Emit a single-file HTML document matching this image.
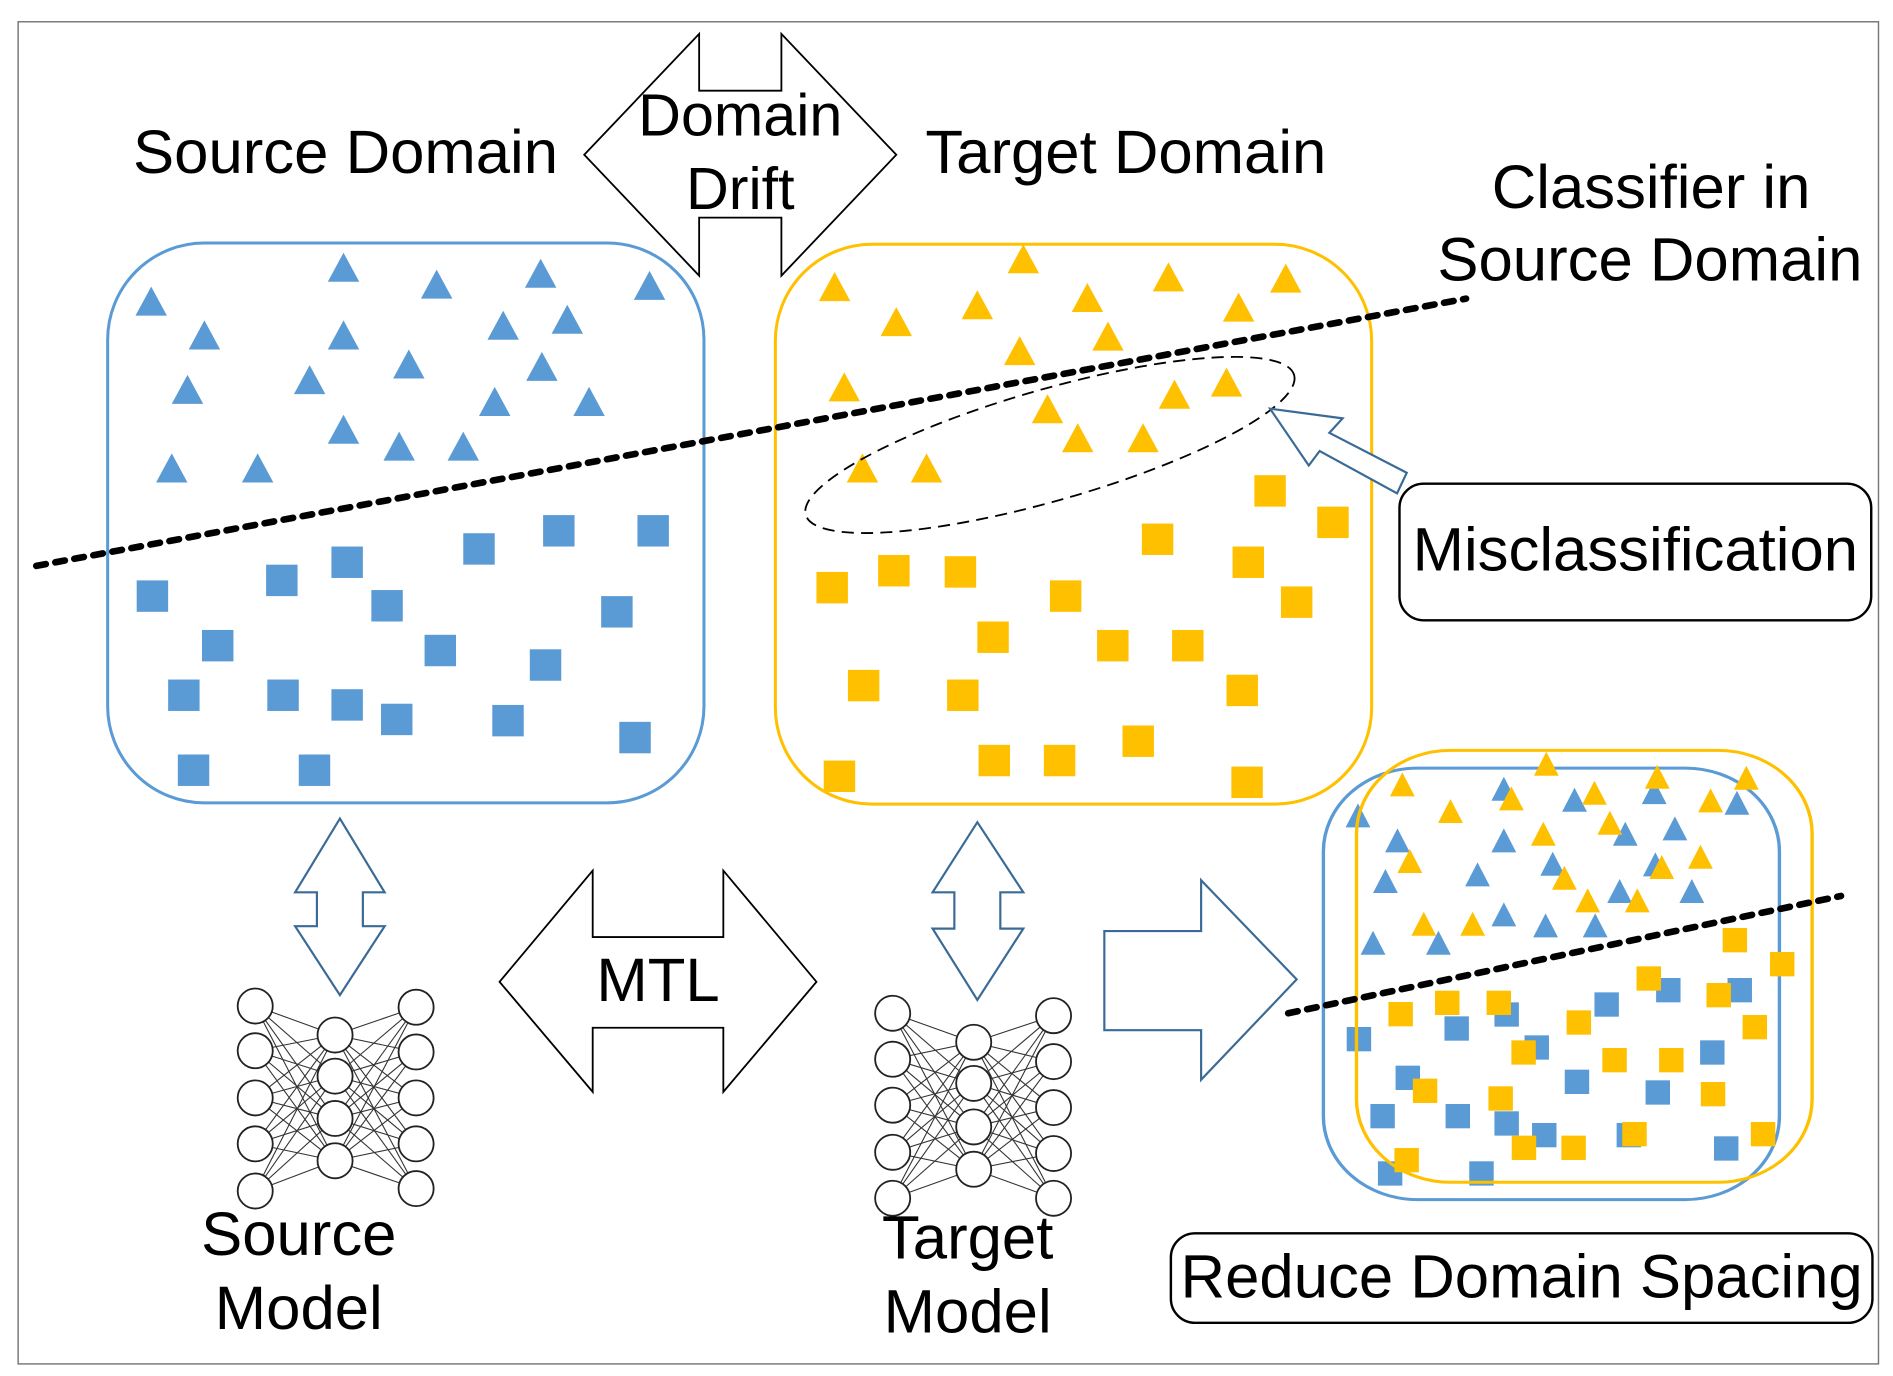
<!DOCTYPE html>
<html><head><meta charset="utf-8"><style>
html,body{margin:0;padding:0;background:#fff;}
svg{display:block;}
text{font-family:"Liberation Sans",sans-serif;fill:#000;}
</style></head><body>
<svg id="s" width="1893" height="1376" viewBox="0 0 1565 1138" preserveAspectRatio="none" xmlns="http://www.w3.org/2000/svg">
<defs>
<path id="tb" d="M0,-13 L13,11 L-13,11 Z" fill="#5b9bd5"/>
<path id="to" d="M0,-13 L13,11 L-13,11 Z" fill="#ffc000"/>
<rect id="sb" x="-13" y="-13" width="26" height="26" fill="#5b9bd5"/>
<rect id="so" x="-13" y="-13" width="26" height="26" fill="#ffc000"/>
<path id="ztb" d="M0,-72 L33,0 L-33,0 Z" fill="#5b9bd5"/>
<path id="zto" d="M0,-72 L33,0 L-33,0 Z" fill="#ffc000"/>
<rect id="zsb" width="65" height="73" fill="#5b9bd5"/>
<rect id="zso" width="65" height="73" fill="#ffc000"/>
</defs>
<rect x="15" y="18" width="1538" height="1110" fill="none" stroke="#777" stroke-width="1.2"/>

<rect x="89" y="201" width="493" height="463" rx="80" fill="none" stroke="#5b9bd5" stroke-width="2.5"/>
<rect x="641" y="202" width="493" height="463" rx="80" fill="none" stroke="#ffc000" stroke-width="2.5"/>

<g>
<use href="#tb" x="125" y="250"/><use href="#tb" x="284" y="222"/><use href="#tb" x="361" y="236"/><use href="#tb" x="447" y="227"/><use href="#tb" x="537" y="237"/><use href="#tb" x="169" y="278"/><use href="#tb" x="284" y="278"/><use href="#tb" x="416" y="270"/><use href="#tb" x="469" y="265"/><use href="#tb" x="155" y="323"/><use href="#tb" x="256" y="315"/><use href="#tb" x="338" y="302"/><use href="#tb" x="448" y="304"/><use href="#tb" x="409" y="333"/><use href="#tb" x="487" y="333"/><use href="#tb" x="284" y="356"/><use href="#tb" x="330" y="370"/><use href="#tb" x="383" y="370"/><use href="#tb" x="142" y="388"/><use href="#tb" x="213" y="388"/>
<use href="#sb" x="126" y="493"/><use href="#sb" x="233" y="480"/><use href="#sb" x="287" y="465"/><use href="#sb" x="396" y="454"/><use href="#sb" x="462" y="439"/><use href="#sb" x="540" y="439"/><use href="#sb" x="320" y="501"/><use href="#sb" x="510" y="506"/><use href="#sb" x="180" y="534"/><use href="#sb" x="364" y="538"/><use href="#sb" x="451" y="550"/><use href="#sb" x="152" y="575"/><use href="#sb" x="234" y="575"/><use href="#sb" x="287" y="583"/><use href="#sb" x="328" y="595"/><use href="#sb" x="420" y="596"/><use href="#sb" x="525" y="610"/><use href="#sb" x="160" y="637"/><use href="#sb" x="260" y="637"/>
</g>
<g>
<use href="#to" x="690" y="238"/><use href="#to" x="846" y="215"/><use href="#to" x="966" y="230"/><use href="#to" x="1063" y="231"/><use href="#to" x="741" y="267"/><use href="#to" x="808" y="253"/><use href="#to" x="899" y="247"/><use href="#to" x="1024" y="255"/><use href="#to" x="916" y="279"/><use href="#to" x="843" y="291"/><use href="#to" x="698" y="321"/><use href="#to" x="1014" y="317"/><use href="#to" x="971" y="327"/><use href="#to" x="866" y="339"/><use href="#to" x="891" y="363"/><use href="#to" x="945" y="363"/><use href="#to" x="713" y="388"/><use href="#to" x="766" y="388"/>
<use href="#so" x="1050" y="406"/><use href="#so" x="1102" y="432"/><use href="#so" x="957" y="446"/><use href="#so" x="688" y="486"/><use href="#so" x="739" y="472"/><use href="#so" x="794" y="473"/><use href="#so" x="1032" y="465"/><use href="#so" x="881" y="493"/><use href="#so" x="1072" y="498"/><use href="#so" x="821" y="527"/><use href="#so" x="920" y="534"/><use href="#so" x="982" y="534"/><use href="#so" x="714" y="567"/><use href="#so" x="796" y="575"/><use href="#so" x="1027" y="571"/><use href="#so" x="941" y="613"/><use href="#so" x="694" y="642"/><use href="#so" x="822" y="629"/><use href="#so" x="876" y="629"/><use href="#so" x="1031" y="647"/>
</g>

<g transform="translate(1077,611.8) scale(0.3108,0.2756)">
<rect x="55" y="85" width="1213" height="1295" rx="250" fill="none" stroke="#5b9bd5" stroke-width="9"/>
<use href="#ztb" x="147" y="263"/><use href="#ztb" x="535" y="183"/><use href="#ztb" x="723" y="216"/><use href="#ztb" x="935" y="193"/><use href="#ztb" x="1155" y="225"/><use href="#ztb" x="252" y="338"/><use href="#ztb" x="535" y="338"/><use href="#ztb" x="858" y="318"/><use href="#ztb" x="990" y="302"/><use href="#ztb" x="665" y="408"/><use href="#ztb" x="938" y="410"/><use href="#ztb" x="220" y="460"/><use href="#ztb" x="465" y="440"/><use href="#ztb" x="843" y="490"/><use href="#ztb" x="1035" y="490"/><use href="#ztb" x="535" y="560"/><use href="#ztb" x="646" y="593"/><use href="#ztb" x="778" y="593"/><use href="#ztb" x="187" y="645"/><use href="#ztb" x="361" y="645"/>
<use href="#zsb" x="117" y="862"/><use href="#zsb" x="377" y="830"/><use href="#zsb" x="510" y="788"/><use href="#zsb" x="590" y="887"/><use href="#zsb" x="776" y="758"/><use href="#zsb" x="940" y="715"/><use href="#zsb" x="1130" y="715"/><use href="#zsb" x="1057" y="902"/><use href="#zsb" x="247" y="978"/><use href="#zsb" x="697" y="990"/><use href="#zsb" x="912" y="1022"/><use href="#zsb" x="180" y="1093"/><use href="#zsb" x="380" y="1093"/><use href="#zsb" x="510" y="1115"/><use href="#zsb" x="610" y="1150"/><use href="#zsb" x="835" y="1150"/><use href="#zsb" x="1094" y="1190"/><use href="#zsb" x="200" y="1265"/><use href="#zsb" x="443" y="1265"/>
<use href="#zto" x="265" y="170"/><use href="#zto" x="393" y="250"/><use href="#zto" x="555" y="212"/><use href="#zto" x="648" y="108"/><use href="#zto" x="776" y="195"/><use href="#zto" x="943" y="147"/><use href="#zto" x="1180" y="150"/><use href="#zto" x="1085" y="218"/><use href="#zto" x="817" y="285"/><use href="#zto" x="640" y="318"/><use href="#zto" x="285" y="400"/><use href="#zto" x="1058" y="387"/><use href="#zto" x="955" y="418"/><use href="#zto" x="696" y="450"/><use href="#zto" x="758" y="518"/><use href="#zto" x="890" y="518"/><use href="#zto" x="322" y="588"/><use href="#zto" x="452" y="588"/>
<use href="#zso" x="1117" y="565"/><use href="#zso" x="1243" y="637"/><use href="#zso" x="888" y="680"/><use href="#zso" x="1074" y="730"/><use href="#zso" x="1170" y="826"/><use href="#zso" x="228" y="787"/><use href="#zso" x="352" y="753"/><use href="#zso" x="489" y="753"/><use href="#zso" x="702" y="812"/><use href="#zso" x="555" y="902"/><use href="#zso" x="797" y="925"/><use href="#zso" x="948" y="925"/><use href="#zso" x="293" y="1017"/><use href="#zso" x="494" y="1040"/><use href="#zso" x="1059" y="1027"/><use href="#zso" x="850" y="1147"/><use href="#zso" x="1192" y="1147"/><use href="#zso" x="244" y="1225"/><use href="#zso" x="556" y="1188"/><use href="#zso" x="688" y="1188"/>
<rect x="143" y="32" width="1212" height="1296" rx="250" fill="none" stroke="#ffc000" stroke-width="9"/>
</g>

<line x1="30" y1="468" x2="1212" y2="247" stroke="#000" stroke-width="5.5" stroke-dasharray="8 8" stroke-linecap="round"/>
<line x1="1065" y1="838" x2="1522" y2="741" stroke="#000" stroke-width="5.5" stroke-dasharray="8 8" stroke-linecap="round"/>

<ellipse cx="868" cy="368" rx="210" ry="46" transform="rotate(-16 868 368)" fill="none" stroke="#000" stroke-width="1.5" stroke-dasharray="10 6"/>

<polygon points="483,128 578,28 578,75 646,75 646,28 741,128 646,228 646,180 578,180 578,228" fill="#fff" stroke="#000" stroke-width="1.5"/>
<text x="612" y="112" font-size="49" text-anchor="middle">Domain</text>
<text x="612" y="173" font-size="49" text-anchor="middle">Drift</text>

<text x="110" y="143" font-size="51">Source Domain</text>
<text x="765" y="143" font-size="51">Target Domain</text>
<text x="1365" y="172" font-size="51" text-anchor="middle">Classifier in</text>
<text x="1364" y="232" font-size="51" text-anchor="middle">Source Domain</text>

<polygon points="1050,338 1110,346 1099,358 1163,391 1155,408 1091,373 1082,385" fill="#fff" stroke="#3a6a96" stroke-width="1.8"/>
<rect x="1157" y="400" width="390" height="113" rx="20" fill="#fff" stroke="#000" stroke-width="2"/>
<text x="1352" y="472" font-size="51" text-anchor="middle">Misclassification</text>

<polygon points="281,677 318,738 300,738 300,766 318,766 281,823 244,766 262,766 262,738 244,738" fill="#fff" stroke="#3a6a96" stroke-width="1.8"/>
<polygon points="808,680 846,738 827,738 827,768 846,768 808,827 771,768 789,768 789,738 771,738" fill="#fff" stroke="#3a6a96" stroke-width="1.8"/>

<polygon points="413,812 490,720 490,775 598,775 598,720 675,812 598,903 598,850 490,850 490,903" fill="#fff" stroke="#000" stroke-width="1.5"/>
<text x="544" y="828" font-size="51" text-anchor="middle">MTL</text>

<polygon points="913,770 993,770 993,728 1072,810 993,893 993,852 913,852" fill="#fff" stroke="#3a6a96" stroke-width="1.8"/>

<g id="nets" stroke="#333" stroke-width="0.9"></g>
<g id="nodes" fill="#fff" stroke="#222" stroke-width="1.5"></g>

<text x="247" y="1038" font-size="51" text-anchor="middle">Source</text>
<text x="247" y="1099" font-size="51" text-anchor="middle">Model</text>
<text x="800" y="1041" font-size="51" text-anchor="middle">Target</text>
<text x="800" y="1102" font-size="51" text-anchor="middle">Model</text>

<rect x="968" y="1020" width="580" height="74" rx="20" fill="#fff" stroke="#000" stroke-width="2"/>
<text x="1258" y="1073" font-size="51" text-anchor="middle">Reduce Domain Spacing</text>
</svg>
<script>
(function(){
var NS="http://www.w3.org/2000/svg";
var nets=document.getElementById("nets"),nodes=document.getElementById("nodes");
function net(L,M,R){
  var i,j;
  for(i=0;i<L[1].length;i++)for(j=0;j<M[1].length;j++)ln(L[0],L[1][i],M[0],M[1][j]);
  for(i=0;i<M[1].length;i++)for(j=0;j<R[1].length;j++)ln(M[0],M[1][i],R[0],R[1][j]);
  [L,M,R].forEach(function(c){c[1].forEach(function(y){var e=document.createElementNS(NS,"circle");e.setAttribute("cx",c[0]);e.setAttribute("cy",y);e.setAttribute("r",14.5);nodes.appendChild(e);});});
}
function ln(x1,y1,x2,y2){var e=document.createElementNS(NS,"line");e.setAttribute("x1",x1);e.setAttribute("y1",y1);e.setAttribute("x2",x2);e.setAttribute("y2",y2);nets.appendChild(e);}
net([211,[832,869,908,946,985]],[277,[856,890,925,960]],[344,[833,870,908,946,983]]);
net([738,[838,876,914,953,991]],[805,[862,896,932,967]],[871,[840,878,916,954,991]]);
})();
</script>
</body></html>
